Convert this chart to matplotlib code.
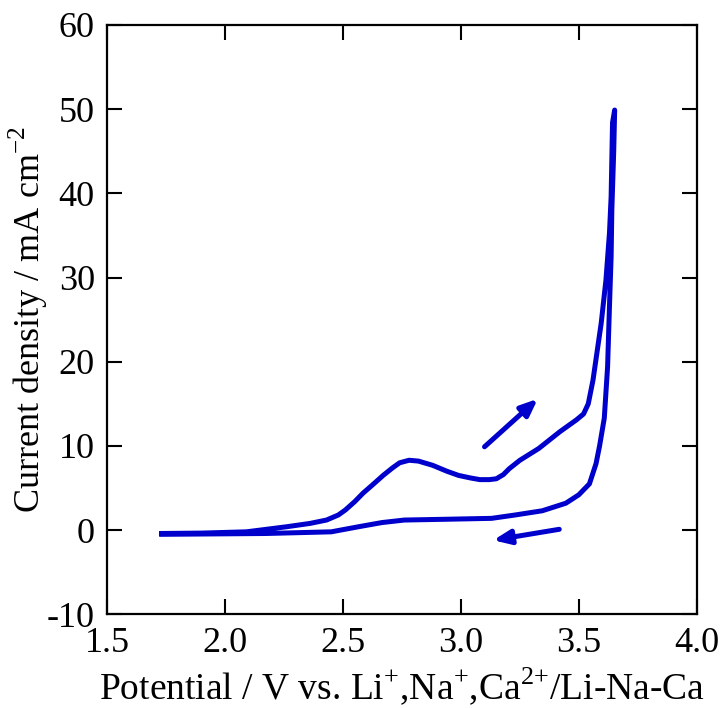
import matplotlib
matplotlib.use("Agg")
import matplotlib.pyplot as plt

plt.rcParams['font.family'] = ['Liberation Serif', 'DejaVu Serif']
plt.rcParams['mathtext.fontset'] = 'custom'
plt.rcParams['mathtext.rm'] = 'Liberation Serif'

# Anodic (forward) branch
fwd_v = [1.72, 1.90, 2.09, 2.26, 2.36, 2.43, 2.48, 2.51, 2.55, 2.585, 2.63, 2.67, 2.71,
         2.74, 2.78, 2.82, 2.88, 2.94, 2.99, 3.04, 3.08, 3.12, 3.15, 3.18, 3.205, 3.25,
         3.33, 3.42, 3.49, 3.52, 3.54, 3.56, 3.595, 3.615, 3.63, 3.637, 3.643, 3.652]
fwd_i = [-0.4, -0.35, -0.2, 0.4, 0.8, 1.2, 1.8, 2.4, 3.4, 4.4, 5.5, 6.5, 7.4,
         8.0, 8.3, 8.2, 7.7, 7.0, 6.5, 6.2, 6.0, 6.0, 6.1, 6.6, 7.3, 8.3,
         9.7, 11.7, 13.1, 13.8, 15.0, 17.8, 24.6, 29.7, 35.3, 39.6, 48.4, 49.9]
# Return (reverse) branch
rev_v = [3.648, 3.64, 3.637, 3.63, 3.622, 3.608, 3.588, 3.573, 3.545, 3.50, 3.445,
         3.345, 3.23, 3.13, 2.95, 2.76, 2.665, 2.565, 2.45, 2.17, 1.72]
rev_i = [45.0, 38.0, 32.5, 26.6, 19.4, 13.3, 10.0, 7.9, 5.5, 4.2, 3.2,
         2.3, 1.8, 1.4, 1.3, 1.2, 0.9, 0.4, -0.2, -0.4, -0.5]

xticks = [1.5, 2.0, 2.5, 3.0, 3.5, 4.0]
yticks = [-10, 0, 10, 20, 30, 40, 50, 60]

color = '#0000CC'

fig = plt.figure(figsize=(7.24, 7.08), dpi=100)
ax = fig.add_axes([0.1482, 0.1323, 0.8141, 0.8324])

ax.plot(fwd_v + rev_v, fwd_i + rev_i, color=color, lw=3.6,
        solid_joinstyle='round', solid_capstyle='butt')

ap = dict(arrowstyle='-|>,head_length=1.0,head_width=0.42',
          color=color, lw=3.6, shrinkA=0, shrinkB=0)
ax.annotate('', xy=(3.326, 15.6), xytext=(3.10, 9.9), arrowprops=ap)
ax.annotate('', xy=(3.137, -1.2), xytext=(3.417, 0.1), arrowprops=ap)

ax.set_xlim(1.5, 4.0)
ax.set_ylim(-10, 60)
ax.set_xticks(xticks)
ax.set_xticklabels([f'{t:.1f}' for t in xticks])
ax.set_yticks(yticks)
ax.set_yticklabels([str(t) for t in yticks])

ax.tick_params(direction='in', length=11, width=1.5, top=True, right=True,
               labelsize=26, pad=9)
for s in ax.spines.values():
    s.set_linewidth(1.6)

ax.set_xlabel(r'Potential / V vs. Li$^{+}$,Na$^{+}$,Ca$^{2{+}}$/Li-Na-Ca', fontsize=27, labelpad=4)
ax.set_ylabel(r'Current density / mA cm$^{-2}$', fontsize=26, labelpad=-2)

fig.savefig('out.png', dpi=100)
